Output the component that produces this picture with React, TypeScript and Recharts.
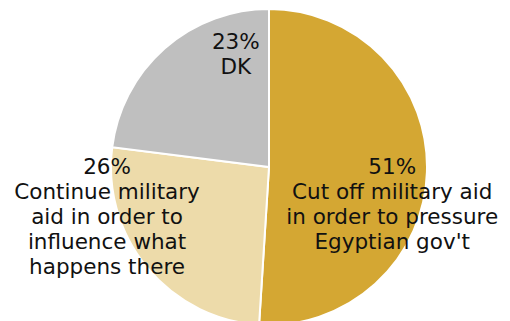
import { PieChart, Pie, Cell } from "recharts";

const categories = ["Cut off military aid in order to pressure Egyptian gov't", "Continue military aid in order to influence what happens there", "DK"];
const shares = [51, 26, 23];
const labelLines = [
  ["Cut off military aid", "in order to pressure", "Egyptian gov't"],
  ["Continue military", "aid in order to", "influence what", "happens there"],
  ["DK"],
];
const colors = ["#D4A733", "#EDDBAA", "#BFBFBF"];
// label anchor relative to pie centre, in units of the radius
const labelAnchor = [
  [0.78, 0],
  [-1.025, 0],
  [-0.21, -0.79],
];

const data = categories.map((name, i) => ({ name, value: shares[i] }));

const renderLabel = (props: any) => {
  const { cx, cy, outerRadius, index } = props;
  const [fx, fy] = labelAnchor[index];
  const x = cx + fx * outerRadius;
  const y = cy + fy * outerRadius + 7;
  return (
    <text x={x} y={y} textAnchor="middle" fill="#111" fontSize={21.5} fontFamily="DejaVu Sans">
      <tspan x={x} dy={0}>{shares[index]}%</tspan>
      {labelLines[index].map((line, i) => (
        <tspan key={i} x={x} dy={25}>{line}</tspan>
      ))}
    </text>
  );
};

export default function App() {
  return (
    <div style={{ position: "absolute", left: 0, top: 0, width: 510, height: 321, overflow: "hidden", background: "#fff" }}>
      <PieChart width={510} height={321} margin={{ top: 0, right: 0, bottom: 0, left: 0 }}>
        <Pie
          data={data}
          dataKey="value"
          cx={269}
          cy={167}
          outerRadius={158}
          startAngle={90}
          endAngle={-270}
          stroke="#fff"
          strokeWidth={2}
          label={renderLabel}
          labelLine={false}
          isAnimationActive={false}
        >
          {data.map((d, i) => (
            <Cell key={d.name} fill={colors[i]} />
          ))}
        </Pie>
      </PieChart>
    </div>
  );
}
